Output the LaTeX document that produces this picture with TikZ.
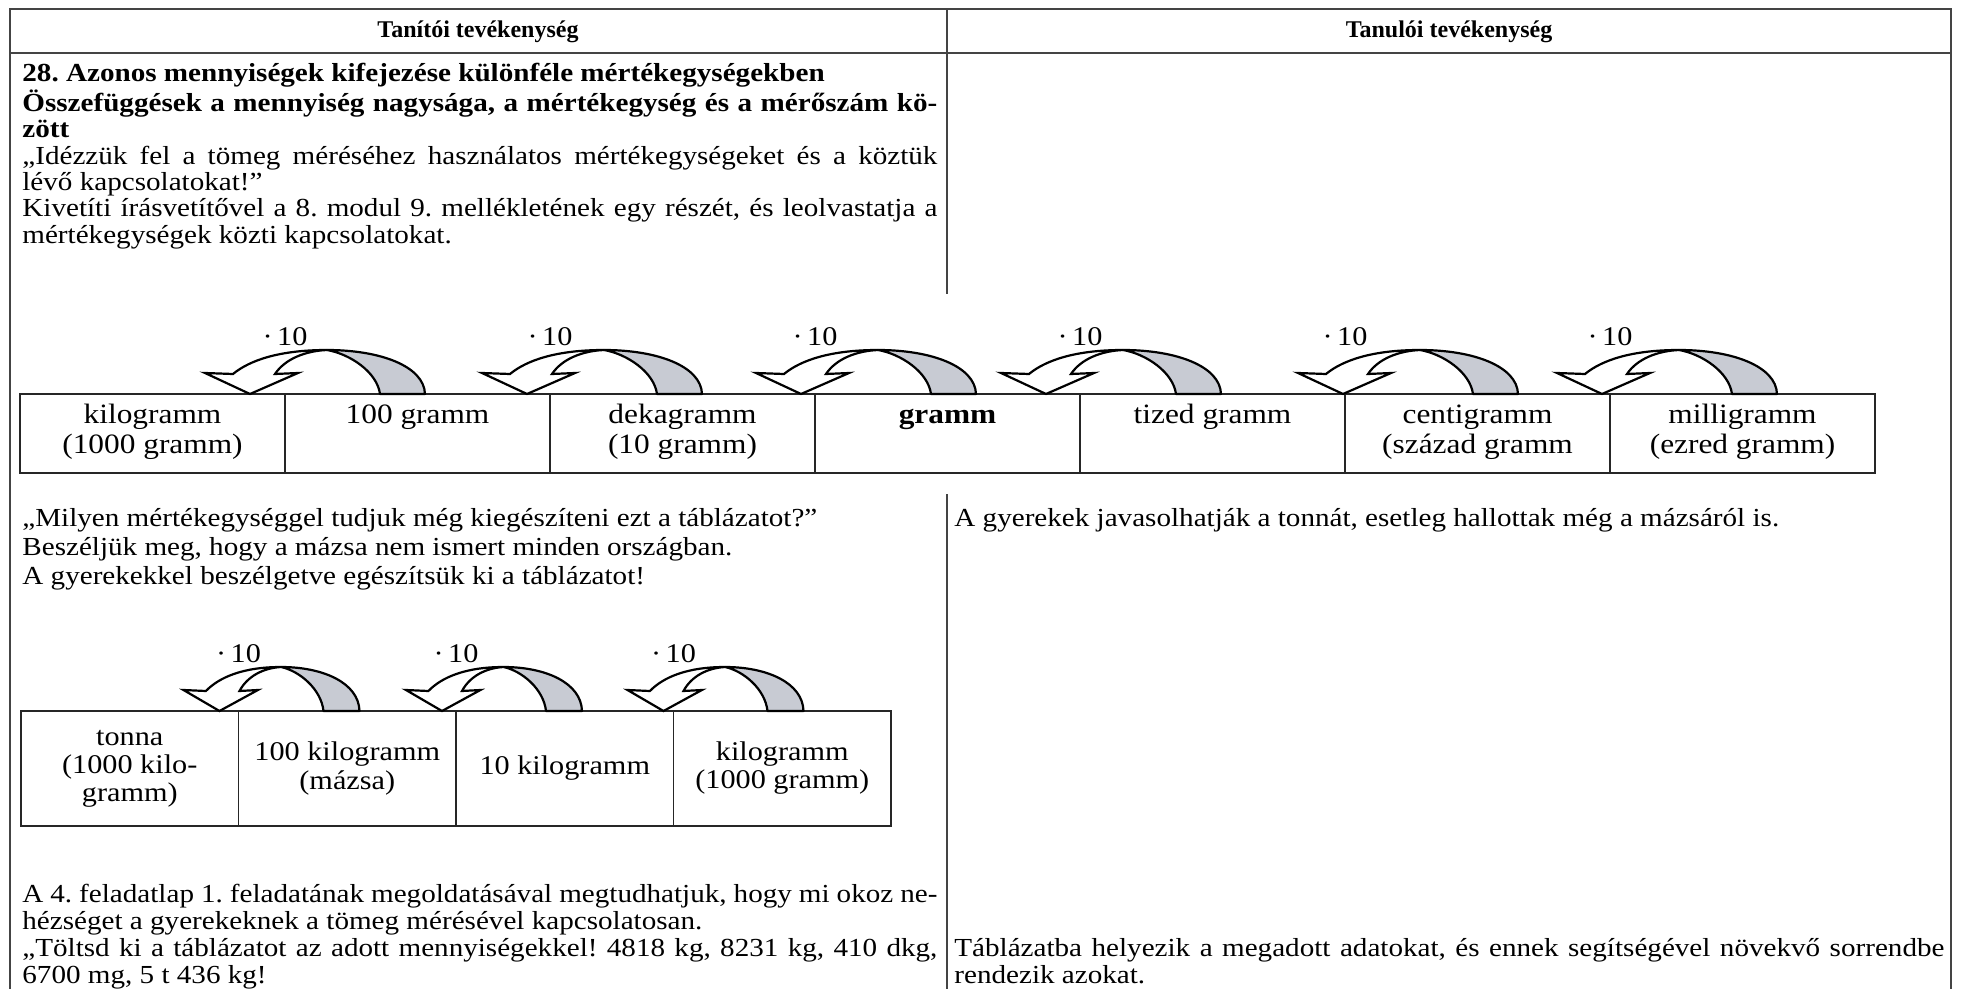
\documentclass[tikz,border=0pt]{standalone}
\usepackage{fontspec}
\setmainfont{Liberation Serif}[FakeStretch=1.12]
\newfontfamily\headfont{Liberation Serif}
\usetikzlibrary{positioning, calc}
\definecolor{ribbongray}{RGB}{200,203,211}
\definecolor{rulegray}{RGB}{68,68,68}
\tikzset{
    x=0.5pt, y=-0.5pt, % one unit is one pixel of the scan, y grows downwards
    frame/.style={draw=rulegray, line width=1.1pt}, % lines of the big table
    cell/.style={draw=black!85, line width=0.75pt, outer sep=0pt, inner sep=0pt,
        minimum width=132.5pt, minimum height=39.5pt, align=center,
        text height=24pt, text depth=4pt, font=\fontsize{14}{15}\selectfont}, % one cell of the gram chain
    tcell/.style={draw=black!85, line width=0.75pt, outer sep=0pt, inner sep=0pt,
        minimum width=108.75pt, minimum height=57.5pt, align=center,
        font=\fontsize{13.5}{14}\selectfont}, % one cell of the kilogram chain
    times/.style={inner sep=0pt, font=\fontsize{13.5}{15}\selectfont}, % the multiplier over an arrow
    head/.style={anchor=base, inner sep=0pt, font=\headfont\fontsize{12}{14}\selectfont\bfseries}, % column titles
    para/.style={anchor=base west, inner sep=0pt, align=justify, text width=457.5pt,
        font={\fontsize{13}{13.2}\selectfont\frenchspacing\tolerance=10000}}, % text in the columns
    turn/.pic={
        \draw[fill=ribbongray, line width=1.1pt, line join=round]
            (77,-44) .. controls (130,-44) and (174,-28) .. (175,0)
            -- (130,0) .. controls (127,-22) and (100,-40) .. (77,-44) -- cycle;
        \draw[fill=white, line width=1.1pt, line join=miter]
            (-45,-21) -- (0,0) -- (48,-21) -- (25,-20)
            .. controls (35,-35) and (55,-43) .. (77,-44)
            .. controls (30,-44) and (0,-34) .. (-17,-20) -- cycle;
    }, % the turning arrow, its tip at the origin
}

\begin{document}
\begin{tikzpicture}
\useasboundingbox (0,0) rectangle (1963,989);
% the table
\draw[frame] (10,989) -- (10,9) -- (1951,9) -- (1951,989);
\draw[frame] (10,53) -- (1951,53);
\draw[frame] (947,9) -- (947,294);
\draw[frame] (947,494) -- (947,989);
\node[head] (tanito) at (478,38) {Tanítói tevékenység};
\node[head] (tanulo) at (1449,38) {Tanulói tevékenység};

\node[para] (intro) at (22,82) {\bfseries 28. Azonos mennyiségek kifejezése különféle mértékegységekben\\
    Összefüggések a mennyiség nagysága, a mértékegység és a mérőszám kö-\linebreak zött\\
    \mdseries „Idézzük fel a tömeg méréséhez használatos mértékegységeket és a köztük\linebreak
    lévő kapcsolatokat!”\\
    Kivetíti írásvetítővel a 8. modul 9. mellékletének egy részét, és leolvastatja a\linebreak
    mértékegységek közti kapcsolatokat.};

% gram chain
\node[cell, anchor=north west] (kg) at (20,394) {kilogramm\\(1000 gramm)};
\node[cell, right=0pt of kg] (hg) {100 gramm\\\mbox{}};
\node[cell, right=0pt of hg] (dkg) {dekagramm\\(10 gramm)};
\node[cell, right=0pt of dkg] (g) {\bfseries gramm\\\mbox{}};
\node[cell, right=0pt of g] (dg) {tized gramm\\\mbox{}};
\node[cell, right=0pt of dg] (cg) {centigramm\\(század gramm};
\node[cell, right=0pt of cg] (mg) {milligramm\\(ezred gramm)};

\pic at ($(kg.north east)+(-35,0)$) {turn};
\pic at ($(hg.north east)+(-23,0)$) {turn};
\pic at ($(dkg.north east)+(-14,0)$) {turn};
\pic at ($(g.north east)+(-34,0)$) {turn};
\pic at ($(dg.north east)+(-2,0)$) {turn};
\pic at ($(cg.north east)+(-8,0)$) {turn};
\node[times] (m1) at ($(kg.north east)+(0,-57)$) {·\,10};
\node[times] (m2) at ($(hg.north east)+(0,-57)$) {·\,10};
\node[times] (m3) at ($(dkg.north east)+(0,-57)$) {·\,10};
\node[times] (m4) at ($(g.north east)+(0,-57)$) {·\,10};
\node[times] (m5) at ($(dg.north east)+(0,-57)$) {·\,10};
\node[times] (m6) at ($(cg.north east)+(0,-57)$) {·\,10};

\node[para, font={\fontsize{13}{14.7}\selectfont\frenchspacing}] (question) at (22,526) {„Milyen mértékegységgel tudjuk még kiegészíteni ezt a táblázatot?”\\
    Beszéljük meg, hogy a mázsa nem ismert minden országban.\\
    A gyerekekkel beszélgetve egészítsük ki a táblázatot!};
\node[para, text width=495pt] (answer) at (954,526) {A gyerekek javasolhatják a tonnát, esetleg hallottak még a mázsáról is.};

% kilogram chain
\node[tcell, anchor=north west] (t) at (21,711) {tonna\\(1000 kilo-\\gramm)};
\node[tcell, right=0pt of t] (q) {100 kilogramm\\(mázsa)};
\node[tcell, right=0pt of q] (tenkg) {10 kilogramm};
\node[tcell, right=0pt of tenkg] (kgb) {kilogramm\\(1000 gramm)};

\pic[xscale=0.8] at ($(t.north east)+(-19,0)$) {turn};
\pic[xscale=0.8] at ($(q.north east)+(-14,0)$) {turn};
\pic[xscale=0.8] at ($(tenkg.north east)+(-10,0)$) {turn};
\node[times] (n1) at ($(t.north east)+(0,-57)$) {·\,10};
\node[times] (n2) at ($(q.north east)+(0,-57)$) {·\,10};
\node[times] (n3) at ($(tenkg.north east)+(0,-57)$) {·\,10};

\node[para, font={\fontsize{13}{13.5}\selectfont\frenchspacing\tolerance=10000}] (task) at (22,902) {A 4. feladatlap 1. feladatának megoldatásával megtudhatjuk, hogy mi okoz ne-\linebreak
    hézséget a gyerekeknek a tömeg mérésével kapcsolatosan.\\
    „Töltsd ki a táblázatot az adott mennyiségekkel! 4818 kg, 8231 kg, 410 dkg,\linebreak
    6700 mg, 5 t 436 kg!};
\node[para, text width=495pt, font={\fontsize{13}{13.5}\selectfont\frenchspacing\tolerance=10000}] (solution) at (954,956) {Táblázatba helyezik a megadott adatokat, és ennek segítségével növekvő sorrendbe\linebreak
    rendezik azokat.};
\end{tikzpicture}
\end{document}
